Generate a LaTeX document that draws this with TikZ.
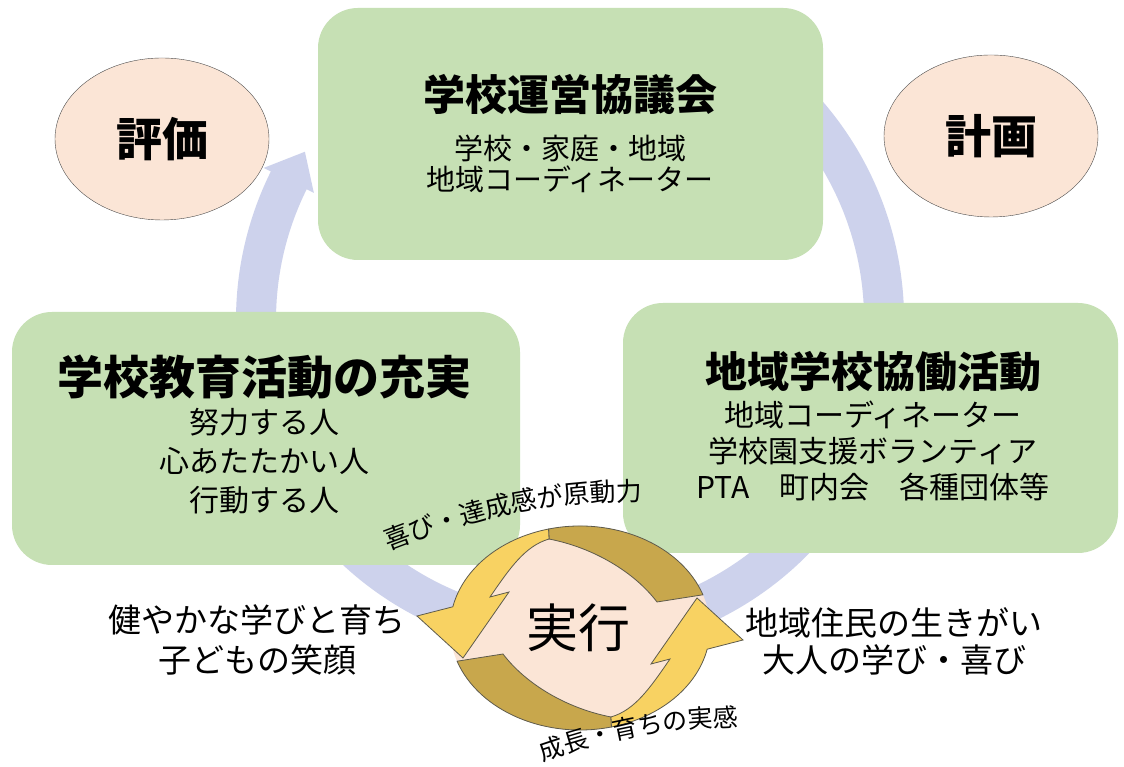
\documentclass[tikz,border=0pt]{standalone}
\usepackage{fontspec}
\newfontfamily\jpfont{Noto Sans CJK JP}
\usetikzlibrary{shapes.geometric}
\usetikzlibrary{decorations.text}
\definecolor{boxgreen}{HTML}{C6E0B4}
\definecolor{peach}{HTML}{FBE5D6}
\definecolor{ringblue}{HTML}{CDD2EC}
\definecolor{arrowyel}{HTML}{F8D262}
\definecolor{arrowgold}{HTML}{C8A74C}
\definecolor{edgegray}{HTML}{5E5B4C}
\tikzset{
    mybox/.style = {rectangle, rounded corners=40pt, fill=boxgreen, draw=none},
    myoval/.style = {ellipse, thin, draw=black!70, fill=peach, minimum width=214pt, minimum height=162pt, font=\jpfont\bfseries\fontsize{46}{46}\selectfont, text=black},
    mytitle/.style = {align=center, inner sep=1pt, font=\jpfont\bfseries\fontsize{#1}{#1}\selectfont, text=black},
    mysub/.style 2 args = {align=center, inner sep=1pt, font=\jpfont\fontsize{#1}{#2}\selectfont, text=black},
    myring/.style = {ringblue, line width=40pt}, % big cycle
    arrowy/.style = {fill=arrowyel, draw=edgegray, line width=0.8pt}, % front
    arrowd/.style = {fill=arrowgold, draw=edgegray, line width=0.8pt}, % back
}

\begin{document}
\begin{tikzpicture}[x=1pt,y=1pt]
\path[use as bounding box] (0,0) rectangle (1124,767);
\clip (0,0) rectangle (1124,767);
%
\fill[white] (0,0) rectangle (1124,767);
%
\begin{scope}[shift={(570,447)}]
\draw[myring] (65:314) arc[start angle=65, end angle=-207, radius=314];
\fill[ringblue] (-206.4:342) -- (-212.4:314) -- (-206.4:286) -- cycle;
\end{scope}
%
\node[mybox, minimum width=505pt, minimum height=252pt] (kyogikai) at (570.5,633) {};
\node[mybox, minimum width=508pt, minimum height=253pt] (gakko) at (266,328.5) {};
\node[mybox, minimum width=495pt, minimum height=250pt] (chiiki) at (870.5,339) {};
%
\node[myoval] (hyoka) at (162,628) {評価};
\node[myoval] (keikaku) at (991,631) {計画};
%
\node[mytitle=42] (kyogikaiT) at (570,672) {学校運営協議会};
\node[mysub={29}{31}] (kyogikaiS) at (570,603.5) {学校・家庭・地域\\地域コーディネーター};
\node[mytitle=46] (gakkoT) at (264,390) {学校教育活動の充実};
\node[mysub={30}{39}] (gakkoS) at (264,306) {努力する人\\心あたたかい人\\行動する人};
\node[mytitle=42] (chiikiT) at (873,395) {地域学校協働活動};
\node[mysub={30}{36}] (chiikiS) at (873,316) {地域コーディネーター\\学校園支援ボランティア\\PTA　町内会　各種団体等};
%
\begin{scope}[shift={(580,139)}]
\fill[peach] (0,0) ellipse[x radius=130, y radius=102];
\foreach \rot in {0,180}{
\begin{scope}[rotate=\rot]
\filldraw[arrowd] (104:130 and 102) arc[start angle=104, end angle=19, x radius=130, y radius=102]
    -- (77,26) .. controls (55,55) and (15,80) .. (-31,89) -- cycle;
\filldraw[arrowy] (104:130 and 102) arc[start angle=104, end angle=168, x radius=130, y radius=102]
    -- (-163,12) -- (-117,-30) -- (-71,36) -- (-90,31) .. controls (-70,60) and (-55,82) .. (-31,89) -- cycle;
\end{scope}
}
\end{scope}
\node[mysub={52}{52}] (jikko) at (578,139) {実行};
%
\coordinate (joyA) at (383,214);
\coordinate (joyB) at (648,267);
\path[decorate, decoration={text along path, text align=center,
    text={|\jpfont\fontsize{26}{26}\selectfont|喜び・達成感が原動力}}] (joyA) to[bend left=10] (joyB);
\coordinate (growA) at (536,3);
\coordinate (growB) at (746,41);
\path[decorate, decoration={text along path, text align=center,
    text={|\jpfont\fontsize{25}{25}\selectfont|成長・育ちの実感}}] (growA) to[bend left=9] (growB);
%
\node[mysub={33}{40}] (kodomo) at (257,127) {健やかな学びと育ち\\子どもの笑顔};
\node[mysub={33}{37}] (jumin) at (894,125.5) {地域住民の生きがい\\大人の学び・喜び};

\end{tikzpicture}
\end{document}
